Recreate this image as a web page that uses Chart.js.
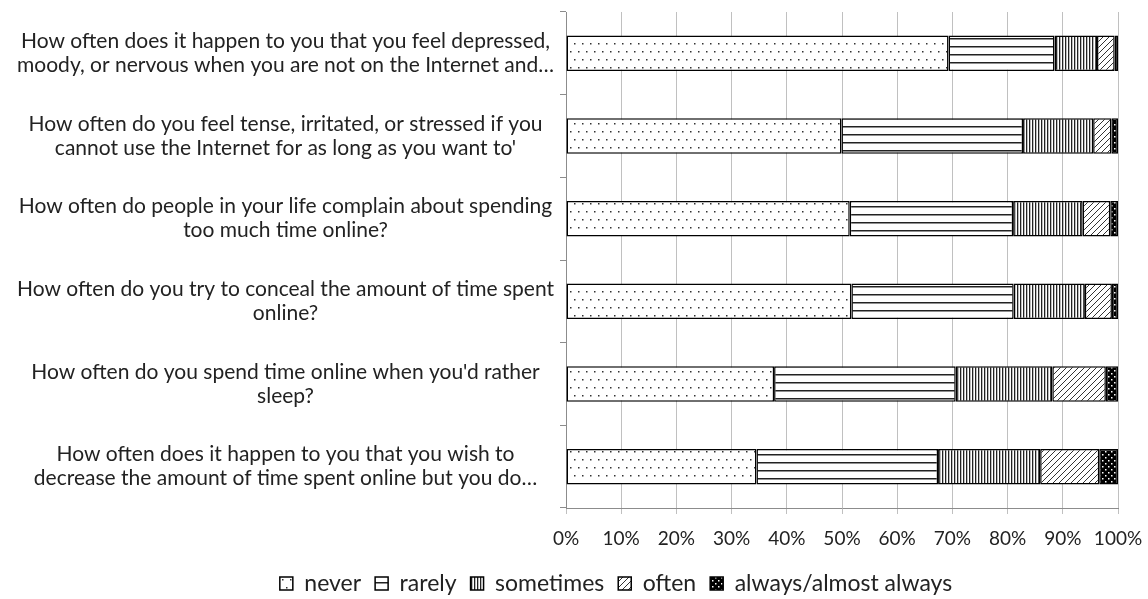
<!DOCTYPE html>
<html>
<head>
<meta charset="utf-8">
<script src="https://cdn.jsdelivr.net/npm/chart.js@4"></script>
<style>
  html, body { margin: 0; padding: 0; background: #fff; }
  #wrap { width: 1148px; height: 599px; }
</style>
</head>
<body>
<div id="wrap"><canvas id="myChart" width="1148" height="599"></canvas></div>
<script>
// questions (y axis), wrapped like the original
var questions = [
    ["How often does it happen to you that you feel depressed,", "moody, or nervous when you are not on the Internet and\u2026"],
    ["How often do you feel tense, irritated, or stressed if you", "cannot use the Internet for as long as you want to'"],
    ["How often do people in your life complain about spending", "too much time online?"],
    ["How often do you try to conceal the amount of time spent", "online?"],
    ["How often do you spend time online when you'd rather", "sleep?"],
    ["How often does it happen to you that you wish to", "decrease the amount of time spent online but you do\u2026"]
];
var seriesNames = ["never", "rarely", "sometimes", "often", "always/almost always"];
// percentages per answer
var never     = [69.3, 49.9, 51.4, 51.7, 37.7, 34.5];
var rarely    = [19.2, 32.9, 29.6, 29.4, 32.9, 32.9];
var sometimes = [7.7, 12.7, 12.6, 12.9, 17.5, 18.5];
var often     = [3.2, 3.3, 5.0, 4.9, 9.7, 10.7];
var always    = [0.6, 1.2, 1.4, 1.1, 2.2, 3.4];
var xTicks = [0, 10, 20, 30, 40, 50, 60, 70, 80, 90, 100];

// --- fill patterns ---
function makePattern(w, h, draw) {
    var c = document.createElement('canvas');
    c.width = w; c.height = h;
    var g = c.getContext('2d');
    draw(g, w, h);
    return document.getElementById('myChart').getContext('2d').createPattern(c, 'repeat');
}
var pDots = makePattern(8, 16, function (g, w, h) {
    g.fillStyle = '#fff'; g.fillRect(0, 0, w, h);
    g.fillStyle = '#333';
    g.fillRect(2, 3, 1.5, 1.5);
    g.fillRect(6, 11, 1.5, 1.5);
});
var pHoriz = makePattern(4, 8, function (g, w, h) {
    g.fillStyle = '#fff'; g.fillRect(0, 0, w, h);
    g.fillStyle = '#222';
    g.fillRect(0, 6, w, 1.5);
});
var pVert = makePattern(3, 4, function (g, w, h) {
    g.fillStyle = '#fff'; g.fillRect(0, 0, w, h);
    g.fillStyle = '#222';
    g.fillRect(0, 0, 1.3, h);
});
var pDiag = makePattern(6, 6, function (g, w, h) {
    g.fillStyle = '#fff'; g.fillRect(0, 0, w, h);
    g.strokeStyle = '#333'; g.lineWidth = 1;
    g.beginPath();
    g.moveTo(-1, 7); g.lineTo(7, -1);
    g.moveTo(-1, 1); g.lineTo(1, -1);
    g.moveTo(5, 7); g.lineTo(7, 5);
    g.stroke();
});
var pBlack = makePattern(6, 6, function (g, w, h) {
    g.fillStyle = '#000'; g.fillRect(0, 0, w, h);
    g.fillStyle = '#fff';
    g.fillRect(1, 1, 1.5, 1.5);
    g.fillRect(4, 4, 1.5, 1.5);
});
var fills = [pDots, pHoriz, pVert, pDiag, pBlack];
var values = [never, rarely, sometimes, often, always];

var datasets = [];
for (var i = 0; i < seriesNames.length; i++) {
    datasets.push({
        label: seriesNames[i],
        data: values[i],
        backgroundColor: fills[i],
        borderColor: '#000',
        borderWidth: 1.5,
        borderSkipped: false,
        barPercentage: 0.43,
        categoryPercentage: 1.0
    });
}

// legend sits a bit right of the canvas centre in the original
var shiftLegend = {
    id: 'shiftLegend',
    afterLayout: function (chart) {
        chart.legend.left += 57;
        chart.legend.right += 57;
    }
};

var font = "Lato, 'Open Sans', sans-serif";
var ctx = document.getElementById("myChart").getContext('2d');
var myChart = new Chart(ctx, {
    type: 'bar',
    data: { labels: questions, datasets: datasets },
    plugins: [shiftLegend],
    options: {
        indexAxis: 'y',
        responsive: false,
        animation: false,
        layout: { padding: { top: 12, right: 30, left: 0, bottom: -6 } },
        scales: {
            x: {
                stacked: true,
                min: 0,
                max: 100,
                afterBuildTicks: function (axis) {
                    axis.ticks = xTicks.map(function (v) { return { value: v }; });
                },
                afterFit: function (axis) {
                    axis.height = 50;
                    axis.paddingLeft = 0;
                    axis.paddingRight = 0;
                },
                ticks: {
                    color: '#222',
                    font: { family: font, size: 19 },
                    padding: 13,
                    callback: function (v) { return v + '%'; }
                },
                grid: { color: '#c0c0c0', lineWidth: 1, tickLength: 6 },
                border: { color: '#8c8c8c', width: 1 }
            },
            y: {
                stacked: true,
                afterFit: function (axis) {
                    axis.width = 566;
                    axis.paddingTop = 0;
                    axis.paddingBottom = 0;
                },
                ticks: {
                    color: '#222',
                    font: { family: font, size: 21, lineHeight: 1.14 },
                    crossAlign: 'center',
                    padding: 6
                },
                grid: { drawOnChartArea: false, color: '#8c8c8c', tickLength: 6, offset: true },
                border: { color: '#8c8c8c', width: 1 }
            }
        },
        plugins: {
            legend: {
                position: 'bottom',
                labels: {
                    color: '#222',
                    font: { family: font, size: 23 },
                    boxWidth: 13,
                    boxHeight: 13,
                    padding: 14
                }
            },
            tooltip: { enabled: false }
        }
    }
});
</script>
</body>
</html>
